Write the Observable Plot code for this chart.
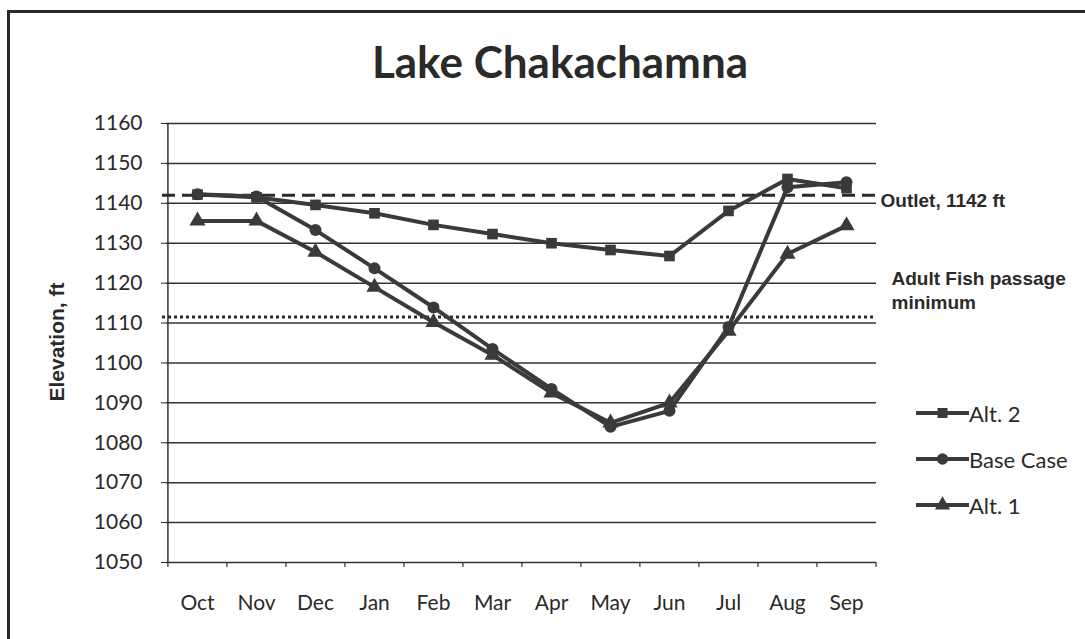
<!DOCTYPE html>
<html>
<head>
<meta charset="utf-8">
<script src="https://cdn.jsdelivr.net/npm/d3@7"></script>
<script src="https://cdn.jsdelivr.net/npm/@observablehq/plot@0.6"></script>
<style>
  html, body { margin: 0; padding: 0; background: #fff; }
  #wrap { position: relative; width: 1085px; height: 639px; overflow: hidden; }
  #border { position: absolute; left: 7px; top: 10px; width: 1100px; height: 660px;
            border-left: 3px solid #2a2a2a; border-top: 3px solid #2a2a2a; }
  #legend { position: absolute; left: 916px; top: 398px; font-family: Lato, sans-serif;
            font-size: 22px; color: #2a2a2a; }
  .item { position: absolute; left: 0; height: 30px; display: flex; align-items: center; white-space: nowrap; }
  .item svg { display: block; }
</style>
</head>
<body>
<div id="wrap">
  <div id="chart"></div>
  <div id="border"></div>
  <div id="legend"></div>
</div>
<script>
const months = ["Oct","Nov","Dec","Jan","Feb","Mar","Apr","May","Jun","Jul","Aug","Sep"];
const alt2     = [1142.2, 1141.5, 1139.6, 1137.5, 1134.6, 1132.3, 1130.0, 1128.3, 1126.8, 1138.1, 1146.1, 1143.8];
const baseCase = [1142.3, 1141.7, 1133.3, 1123.7, 1113.9, 1103.5, 1093.5, 1084.0, 1088.0, 1109.0, 1144.0, 1145.3];
const alt1     = [1135.6, 1135.6, 1127.8, 1119.0, 1110.2, 1102.0, 1092.5, 1085.0, 1090.0, 1108.0, 1127.3, 1134.4];
const seriesNames = ["Alt. 2", "Base Case", "Alt. 1"];
const seriesSymbols = ["square", "circle", "triangle"];
const yTicks = [1050, 1060, 1070, 1080, 1090, 1100, 1110, 1120, 1130, 1140, 1150, 1160];
const outletLevel = 1142;
const fishMin = 1111.5;
const title = "Lake Chakachamna";
const yLabel = "Elevation, ft";
const outletLabel = "Outlet, 1142 ft";
const fishLabel = "Adult Fish passage\nminimum";

const ink = "#2a2a2a";
const W = 1085, H = 639;
const mL = 166, mR = 209, mT = 123, mB = 77;
const step = (W - mL - mR) / months.length;

const data = [];
[alt2, baseCase, alt1].forEach((vals, i) => {
  vals.forEach((v, j) => data.push({series: seriesNames[i], month: months[j], value: v}));
});

const chart = Plot.plot({
  width: W, height: H,
  marginLeft: mL, marginRight: mR, marginTop: mT, marginBottom: mB,
  style: {fontFamily: "Lato, sans-serif", fontSize: "21px", color: ink, background: "transparent"},
  x: {type: "point", domain: months, padding: 0.5, tickSize: 0, tickPadding: 33, label: null},
  y: {domain: [1050, 1160], ticks: yTicks, tickSize: 5, tickPadding: 19, tickFormat: d => String(d), label: null},
  symbol: {domain: seriesNames, range: seriesSymbols},
  marks: [
    Plot.ruleY(yTicks, {stroke: "#333", strokeWidth: 1.5}),
    Plot.ruleX([months[0]], {dx: -step / 2, y1: 1050, y2: 1160, stroke: "#333", strokeWidth: 1.5}),
    Plot.ruleX(months, {dx: -step / 2, y1: 1050, y2: 1050, insetBottom: -5, stroke: "#333", strokeWidth: 1.2}),
    Plot.ruleX([months[months.length - 1]], {dx: step / 2, y1: 1050, y2: 1050, insetBottom: -5, stroke: "#333", strokeWidth: 1.2}),
    Plot.ruleY([outletLevel], {stroke: ink, strokeWidth: 3, strokeDasharray: "13,7", insetLeft: -4}),
    Plot.ruleY([fishMin], {stroke: ink, strokeWidth: 3, strokeDasharray: "3,3", insetLeft: -4}),
    Plot.line(data, {x: "month", y: "value", z: "series", stroke: "#3a3a3a", strokeWidth: 4}),
    Plot.dot(data, {x: "month", y: "value", symbol: "series", fill: "#3a3a3a", stroke: "none", r: 6}),
    Plot.text([outletLevel], {y: d => d, text: () => outletLabel, frameAnchor: "right", textAnchor: "start",
      dx: 4, dy: 6, fontFamily: "'Liberation Sans', Arial, sans-serif", fontWeight: "bold", fontSize: 19, fill: ink}),
    Plot.text([fishMin], {y: d => d, text: () => fishLabel, frameAnchor: "right", textAnchor: "start",
      lineAnchor: "middle", lineHeight: 1.25, dx: 15, dy: -28, fontFamily: "'Liberation Sans', Arial, sans-serif", fontWeight: "bold", fontSize: 19, fill: ink})
  ]
});
document.getElementById("chart").appendChild(chart);

const svg = d3.select(chart);
svg.append("text").text(title)
  .attr("x", 560).attr("y", 78).attr("text-anchor", "middle")
  .attr("font-family", "Lato, sans-serif").attr("font-weight", "bold").attr("font-size", 44).attr("fill", ink);
svg.append("text").text(yLabel)
  .attr("transform", "translate(64,342) rotate(-90)").attr("text-anchor", "middle")
  .attr("font-family", "'Liberation Sans', Arial, sans-serif").attr("font-weight", "bold").attr("font-size", 21).attr("fill", ink);

const legend = d3.select("#legend");
seriesNames.forEach((name, i) => {
  const item = legend.append("div").attr("class", "item").style("top", (i * 46) + "px");
  const s = item.append("svg").attr("width", 53).attr("height", 30);
  s.append("line").attr("x1", 0).attr("x2", 53).attr("y1", 15).attr("y2", 15).attr("stroke", "#3a3a3a").attr("stroke-width", 4);
  s.append("path").attr("transform", "translate(26.5,15)")
    .attr("d", d3.symbol(seriesSymbols[i] === "square" ? d3.symbolSquare : seriesSymbols[i] === "circle" ? d3.symbolCircle : d3.symbolTriangle, 100)())
    .attr("fill", "#3a3a3a");
  item.append("span").text(name);
});
</script>
</body>
</html>
